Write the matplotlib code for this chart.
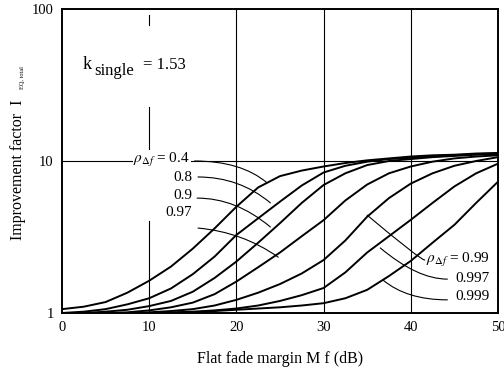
import matplotlib
matplotlib.use("Agg")
import matplotlib.pyplot as plt
import numpy as np

plt.rcParams['font.family'] = ['Liberation Serif', 'DejaVu Serif']
plt.rcParams['mathtext.fontset'] = 'stix'

# Flat fade margin (dB)
margin = [0, 2.5, 5, 7.5, 10, 12.5, 15, 17.5, 20, 22.5, 25,
          27.5, 30, 32.5, 35, 37.5, 40, 42.5, 45, 47.5, 50]

# Improvement factor for each correlation coefficient
rho_04 = [1.06, 1.10, 1.18, 1.36, 1.63, 2.02, 2.65, 3.6, 5.0, 6.7, 7.95,
          8.65, 9.2, 9.7, 10.1, 10.4, 10.7, 10.9, 11.0, 11.2, 11.3]
rho_08 = [1.0, 1.02, 1.06, 1.14, 1.25, 1.45, 1.8, 2.35, 3.26, 4.2, 5.4,
          6.9, 8.4, 9.3, 9.9, 10.3, 10.5, 10.7, 10.9, 11.1, 11.2]
rho_09 = [1.0, 1.0, 1.02, 1.05, 1.11, 1.2, 1.38, 1.7, 2.18, 2.9, 3.9,
          5.3, 6.95, 8.3, 9.4, 10.0, 10.3, 10.6, 10.8, 11.0, 11.1]
rho_097 = [1.0, 1.0, 1.0, 1.01, 1.04, 1.09, 1.17, 1.33, 1.61, 2.0, 2.5,
           3.2, 4.08, 5.5, 7.0, 8.3, 9.2, 9.9, 10.4, 10.7, 10.9]
rho_099 = [1.0, 1.0, 1.0, 1.0, 1.01, 1.03, 1.06, 1.12, 1.22, 1.36, 1.55,
           1.82, 2.23, 3.0, 4.3, 5.7, 7.1, 8.3, 9.3, 10.0, 10.6]
rho_0997 = [1.0, 1.0, 1.0, 1.0, 1.0, 1.01, 1.02, 1.04, 1.07, 1.12, 1.2,
            1.31, 1.46, 1.85, 2.5, 3.2, 4.1, 5.3, 6.8, 8.3, 9.6]
rho_0999 = [1.0, 1.0, 1.0, 1.0, 1.0, 1.0, 1.01, 1.03, 1.05, 1.07, 1.09,
            1.12, 1.16, 1.25, 1.42, 1.75, 2.2, 2.9, 3.8, 5.3, 7.3]

curves = [rho_04, rho_08, rho_09, rho_097, rho_099, rho_0997, rho_0999]

fig = plt.figure(figsize=(5.04, 3.69), dpi=100)
ax = fig.add_axes([0.123, 0.1518, 0.865, 0.8238])

# grid lines (vertical at 20,30,40 full; 10 broken as in print)
for xv in [20, 30, 40]:
    ax.axvline(xv, color='black', lw=0.8, zorder=1)
ax.axhline(10, color='black', lw=0.8, zorder=1)
ax.plot([10, 10], [1, 4.03], color='black', lw=0.8, zorder=1)
ax.plot([10, 10], [11.8, 22.6], color='black', lw=0.8, zorder=1)
ax.plot([10, 10], [78, 91], color='black', lw=0.8, zorder=1)

for c in curves:
    ax.plot(margin, c, color='black', lw=1.4, zorder=3, solid_capstyle='butt')

ax.set_yscale('log')
ax.set_xlim(0, 50)
ax.set_ylim(1, 100)
ax.set_xticks([0, 10, 20, 30, 40, 50])
ax.set_yticks([1, 10, 100])
ax.set_yticklabels(['1', '10', '100'])
ax.yaxis.set_minor_locator(matplotlib.ticker.NullLocator())
ax.tick_params(length=0, labelsize=10.5, pad=6)
for s in ax.spines.values():
    s.set_linewidth(1.4)

ax.set_xlabel('Flat fade margin M f (dB)', fontsize=11.5, labelpad=12)
fig.text(0.036, 0.54, 'Improvement factor  I', rotation=90, fontsize=11.5,
         ha='center', va='center')
fig.text(0.045, 0.79, 'EQ, total', rotation=90, fontsize=4.5,
         ha='center', va='center')

# k single annotation
ax.text(0.048, 0.816, 'k', transform=ax.transAxes, fontsize=13, va='center')
ax.text(0.075, 0.795, 'single', transform=ax.transAxes, fontsize=12, va='center')
ax.text(0.186, 0.816, '= 1.53', transform=ax.transAxes, fontsize=12, va='center')

# curve labels
lab_kw = dict(transform=ax.transAxes, fontsize=11, va='center', ha='right', zorder=5)
ax.text(0.2936, 0.503, r'$\rho_{\Delta f}$ = 0.4',
        bbox=dict(facecolor='white', edgecolor='none', pad=0.5), **lab_kw)
ax.text(0.298, 0.447, '0.8', **lab_kw)
ax.text(0.298, 0.388, '0.9', **lab_kw)
ax.text(0.298, 0.329, '0.97', **lab_kw)
ax.text(0.982, 0.174, r'$\rho_{\Delta f}$ = 0.99', **lab_kw)
ax.text(0.982, 0.112, '0.997', **lab_kw)
ax.text(0.982, 0.053, '0.999', **lab_kw)

# leader lines from labels to curves
lead = dict(arrowstyle='-', lw=0.8, color='black', shrinkA=0, shrinkB=0)
leaders = [((15.2, 10.0), (23.5, 7.2), 'angle3,angleA=0,angleB=-40'),
           ((15.6, 7.85), (23.9, 5.3), 'angle3,angleA=0,angleB=-40'),
           ((15.5, 5.7), (23.9, 3.68), 'angle3,angleA=0,angleB=-40'),
           ((15.6, 3.62), (24.8, 2.33), 'angle3,angleA=-5,angleB=-35'),
           ((41.6, 2.23), (35.0, 4.4), 'angle3,angleA=0,angleB=-40'),
           ((44.2, 1.67), (36.5, 2.68), 'angle3,angleA=0,angleB=-40'),
           ((44.2, 1.22), (36.8, 1.65), 'angle3,angleA=0,angleB=-40')]
for start, end, cs in leaders:
    ax.annotate('', xy=end, xytext=start,
                arrowprops=dict(connectionstyle=cs, **lead), zorder=2)

fig.savefig('out.png', dpi=100)
